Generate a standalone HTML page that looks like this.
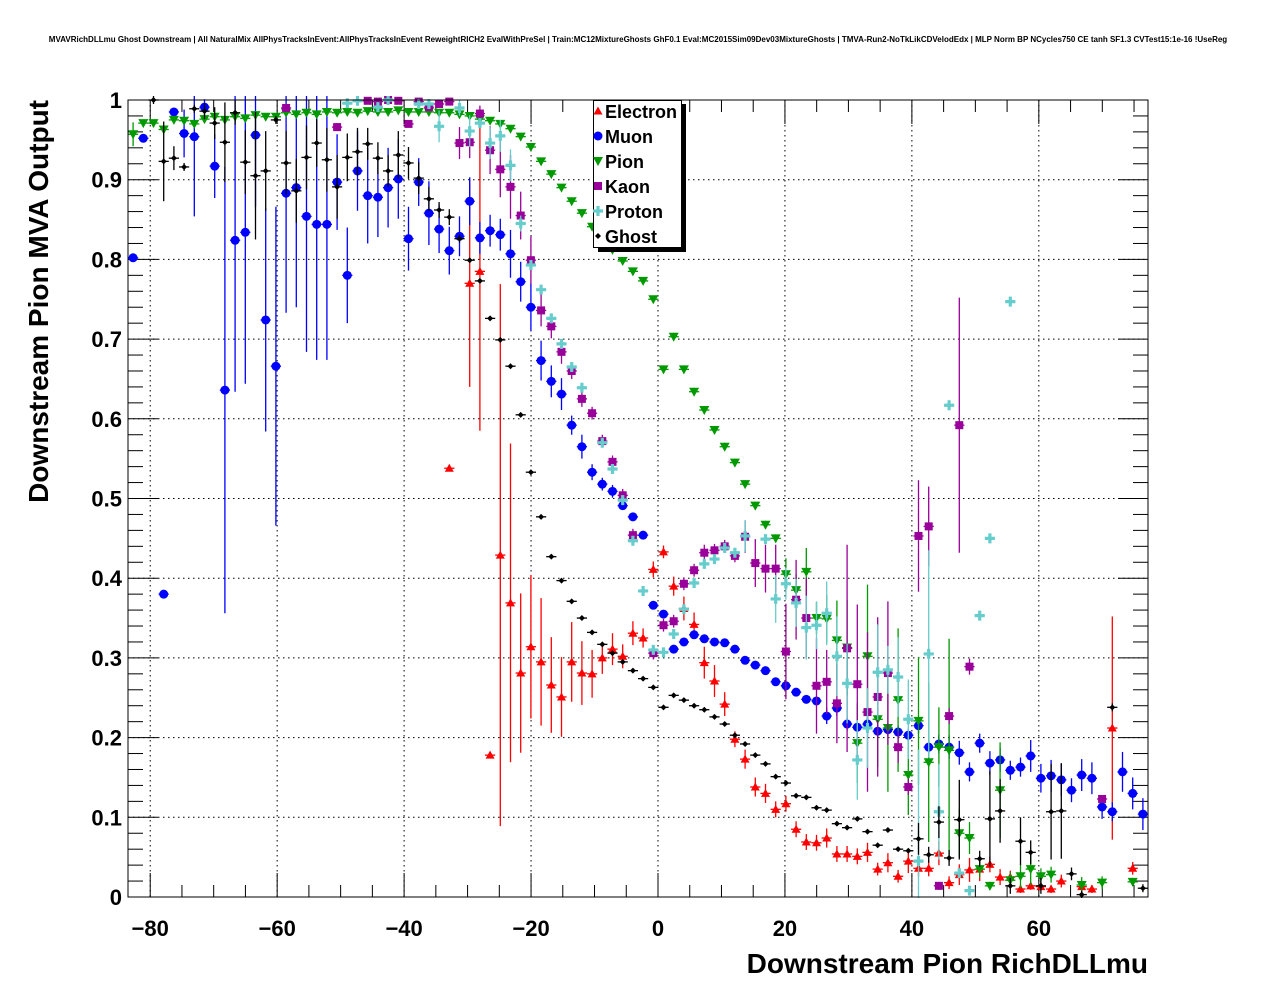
<!DOCTYPE html>
<html><head><meta charset="utf-8"><style>
html,body{margin:0;padding:0;background:#fff;}
svg{display:block;font-family:"Liberation Sans",sans-serif;}
</style></head><body>
<svg id="chart" width="1276" height="996" viewBox="0 0 1276 996">
<text x="638" y="42" font-size="8" font-weight="bold" text-anchor="middle">MVAVRichDLLmu Ghost Downstream | All NaturalMix AllPhysTracksInEvent:AllPhysTracksInEvent ReweightRICH2 EvalWithPreSel | Train:MC12MixtureGhosts GhF0.1 Eval:MC2015Sim09Dev03MixtureGhosts | TMVA-Run2-NoTkLikCDVelodEdx | MLP Norm BP NCycles750 CE tanh SF1.3 CVTest15:1e-16 !UseReg</text>
<g id="grid"></g>
<g id="axes"></g>
<g id="series" clip-path="url(#plotclip)"></g>
<defs><clipPath id="plotclip"><rect x="128" y="96" width="1021" height="802"/></clipPath></defs>
<rect x="128" y="100" width="1020" height="797" fill="none" stroke="#000" stroke-width="1"/>
<text x="1148" y="973" font-size="28" font-weight="bold" text-anchor="end">Downstream Pion RichDLLmu</text>
<text transform="translate(48,100) rotate(-90)" font-size="28" font-weight="bold" text-anchor="end">Downstream Pion MVA Output</text>
<g id="legend">
<rect x="598" y="104" width="88" height="148" fill="#000"/>
<rect x="593.5" y="100.5" width="88" height="147" fill="#fff" stroke="#000" stroke-width="1"/>
</g>
</svg>
<script>
const X0=-83.5, X1=77.2, NB=100;
const xTicks=[-80,-60,-40,-20,0,20,40,60];
const xTickLabels=["\u221280","\u221260","\u221240","\u221220","0","20","40","60"];
const yTicks=[0,0.1,0.2,0.3,0.4,0.5,0.6,0.7,0.8,0.9,1];
const yTickLabels=["0","0.1","0.2","0.3","0.4","0.5","0.6","0.7","0.8","0.9","1"];
const seriesNames=["Electron","Muon","Pion","Kaon","Proton","Ghost"];
const n=null;
const electronVals=[n,n,n,n,n,n,n,n,n,n, n,n,n,n,n,n,n,n,n,n, n,n,n,n,n,n,n,n,n,n, n,.538,n,.770,.785,.178,.429,.369,.281,.314, .295,.266,.251,.295,.281,.280,.300,.311,.302,.331, .325,.411,.433,.390,.362,.342,.294,.271,.242,.198, .173,.138,.130,.110,.117,.085,.069,.068,.074,.054, .054,.051,.056,.035,.043,.026,.045,.036,.036,.055, .018,.028,.034,.035,.041,.025,.025,.010,.014,.013, .010,.020,n,.013,.010,n,.212,n,.036,n];
const electronErr=[0,0,0,0,0,0,0,0,0,0, 0,0,0,0,0,0,0,0,0,0, 0,0,0,0,0,0,0,0,0,0, 0,.003,0,.13,.2,.003,.34,.2,.1,.09, .08,.06,.05,.05,.04,.03,.02,.02,.015,.015, .012,.01,.008,.012,.015,.015,.02,.02,.015,.01, .012,.012,.012,.01,.01,.01,.01,.01,.012,.01, .01,.01,.012,.008,.012,.008,.015,.01,.01,.015, .008,.013,.015,.015,.01,.01,.008,.005,.005,.005, .005,.008,0,.005,.005,0,.14,0,.008,0];
const muonVals=[.802,.952,n,.380,.985,.958,.954,.991,.917,.636, .824,.834,.956,.724,.666,.883,.890,.854,.844,.844, .897,.780,.911,.880,.878,.890,.901,.826,.897,.858, .838,.811,.829,.873,.827,.836,.831,.807,.772,.740, .673,.647,.631,.592,.565,.533,.518,.509,.491,.477, .454,.366,.355,.311,.320,.329,.324,.320,.319,.311, .297,.291,.284,.270,.265,.257,.248,.246,.227,.237, .217,.213,.217,.208,.210,.207,.203,.215,.188,.192, .188,.181,.157,.193,.168,.172,.159,.163,.177,.149, .152,.147,.134,.153,.149,.113,.107,.157,.130,.104];
const muonErr=[.003,.005,0,.005,.005,.03,.1,.01,.04,.28, .19,.19,.09,.14,.2,.15,.15,.17,.17,.17, .06,.06,.05,.06,.05,.05,.05,.04,.03,.04, .03,.03,.025,.03,.02,.02,.02,.03,.025,.03, .025,.02,.02,.012,.015,.01,.008,.008,.005,.005, .005,.005,.005,.005,.005,.005,.005,.005,.005,.005, .005,.005,.005,.005,.005,.005,.005,.005,.01,.01, .008,.008,.008,.008,.008,.008,.008,.01,.01,.012, .015,.015,.012,.012,.015,.015,.012,.012,.02,.018, .02,.02,.015,.02,.02,.015,.012,.025,.02,.02];
const pionVals=[.957,.971,.971,.963,.975,.974,.970,.976,.979,.975, .979,.977,.981,.979,.979,.984,.982,.984,.982,.985, .984,.985,.984,.986,.985,.985,.987,.985,.985,.985, .984,.984,.982,.980,.976,.974,.970,.964,.954,.941, .923,.907,.890,.873,.858,.841,.826,.812,.798,.785, .773,.750,.662,.703,.662,.634,.611,.586,.565,.545, .518,.491,.467,.450,.405,.385,.408,.350,.349,.322, .313,.193,.302,.223,.212,.247,.153,.221,.169,.188, .184,.080,.074,.035,.014,.134,.021,.026,.035,.026, .028,n,n,.015,n,.018,n,n,.019,n];
const pionErr=[.015,.003,.003,.003,.003,.003,.003,.003,.003,.003, .003,.003,.003,.003,.003,.003,.003,.003,.003,.003, .003,.003,.003,.003,.003,.003,.003,.003,.003,.003, .003,.003,.003,.003,.003,.003,.003,.003,.003,.003, .003,.003,.003,.003,.003,.003,.003,.003,.003,.003, .003,.003,.005,.005,.005,.005,.005,.005,.005,.005, .005,.005,.005,.005,.02,.02,.03,.02,.03,.05, .06,.05,.09,.06,.08,.09,.05,.08,.1,.05, .14,.03,.02,.01,.005,.06,.01,.015,.02,.01, .01,0,0,.01,0,.008,0,0,.005,0];
const kaonVals=[n,n,n,n,n,n,n,n,n,n, n,n,n,n,n,.990,n,n,n,n, .966,n,n,.999,.998,1.0,.999,.970,.998,.991, .995,.998,.946,.947,.983,.937,.913,.891,.855,.799, .736,.716,.684,.660,.625,.607,.572,.546,.504,.454, n,.306,.341,.346,.393,.410,.432,.435,.440,.428, .452,.419,.412,.412,.308,.373,.350,.265,.270,.243, .312,.267,.232,.251,.281,.188,.138,.453,.465,.014, .227,.592,.289,n,n,n,n,n,n,n, n,n,n,n,n,.123,n,n,n,n];
const kaonErr=[0,0,0,0,0,0,0,0,0,0, 0,0,0,0,0,.005,0,0,0,0, .005,0,0,.003,.003,.003,.003,.003,.003,.003, .003,.003,.02,.02,.01,.03,.035,.04,.03,.03, .02,.015,.015,.01,.01,.008,.008,.008,.008,.008, 0,.008,.008,.008,.008,.008,.01,.008,.008,.008, .02,.03,.03,.03,.06,.05,.05,.06,.04,.05, .13,.1,.1,.1,.09,.02,.01,.07,.05,.005, .01,.16,.01,0,0,0,0,0,0,0, 0,0,0,0,0,.005,0,0,0,0];
const protonVals=[n,n,n,n,n,n,n,n,n,n, n,n,n,n,n,n,n,n,n,n, n,.996,.999,n,.991,1.0,n,n,.995,.995, .967,n,.990,.961,.971,.946,.955,.918,.845,.793, .762,.726,.694,.665,.639,n,.570,.537,.498,.447, .384,.310,.307,.330,.361,.394,.418,.424,.438,.432, .453,n,.449,.374,.393,.369,.338,.341,.356,.302, .268,.172,.212,.282,.285,.276,.223,.045,.305,.107, .617,.030,.008,.353,.450,n,.747,n,n,n, n,n,n,n,n,n,n,n,n,n];
const protonErr=[0,0,0,0,0,0,0,0,0,0, 0,0,0,0,0,0,0,0,0,0, 0,.005,.005,0,.005,.005,0,0,.005,.005, .02,0,.01,.02,.005,.02,.02,.02,.01,.005, .005,.005,.005,.005,.005,0,.005,.005,.005,.005, .005,.005,.005,.005,.005,.005,.005,.005,.005,.005, .02,0,.005,.03,.02,.03,.04,.03,.04,.05, .05,.05,.05,.06,.03,.05,.05,.14,.13,.06, .005,.005,.005,.005,.005,0,.005,0,0,0, 0,0,0,0,0,0,0,0,0,0];
const ghostVals=[n,n,1.0,.923,.927,.916,.989,.986,.971,.947, .984,.922,.905,.911,.975,.921,.886,.928,.946,.925, .891,.928,.935,.945,.927,.911,.931,.921,.902,.876, .862,.853,.826,.799,.773,.726,.699,.666,.605,.533, .477,.427,.397,.371,.350,.332,.317,.306,.295,.284, .274,.263,.238,.253,.247,.240,.235,.226,.217,.203, .192,.178,.167,.151,.143,.127,.125,.112,.109,.092, .087,.098,.082,.065,.084,.060,.058,.073,.053,.094, .049,.097,n,.048,.098,.108,.014,.070,.056,.014, .107,.108,.029,.003,n,n,.238,n,n,.011];
const ghostErr=[0,0,.005,.05,.015,.005,.005,.01,.02,.05, .015,.04,.08,.05,.005,.04,.04,.04,.03,.04, .04,.03,.03,.02,.02,.02,.03,.02,.02,.015, .01,.01,.005,.003,.003,.003,.003,.003,.003,.003, .003,.003,.003,.003,.003,.003,.003,.003,.003,.003, .003,.003,.003,.003,.003,.003,.003,.003,.003,.003, .003,.004,.004,.004,.004,.004,.004,.004,.004,.004, .004,.004,.004,.004,.004,.004,.004,.02,.01,.02, .01,.05,0,.01,.06,.04,.01,.03,.015,.01, .06,.06,.008,.005,0,0,.005,0,0,.005];

const PL=128, PR=1148, PT=100, PB=897;
const sx=v=>PL+(v-X0)/(X1-X0)*(PR-PL);
const sy=v=>PB-v*(PB-PT);
const binW=(X1-X0)/NB;
const binC=i=>X0+binW*(i+0.5);
const NS="http://www.w3.org/2000/svg";
function mk(tag,attrs,parent){const e=document.createElementNS(NS,tag);for(const k in attrs)e.setAttribute(k,attrs[k]);parent.appendChild(e);return e;}
const grid=document.getElementById('grid'), axes=document.getElementById('axes'), ser=document.getElementById('series'), leg=document.getElementById('legend');

xTicks.forEach((t,k)=>{
  const x=sx(t);
  const gl=mk('line',{x1:x,x2:x,y1:PT,y2:PB,stroke:'#000','stroke-width':1,'stroke-dasharray':'1.5,3.5'},grid);
  
  
  const lb=mk('text',{x:x,y:936,'font-size':22,'font-weight':'bold','text-anchor':'middle'},axes);
  lb.textContent=xTickLabels[k];
  
  
});
for(let v=-80;v<=75;v+=5){
  const x=sx(v); const major=(v%20===0); const L=major?24:12;
  const t1=mk('line',{x1:x,x2:x,y1:PB,y2:PB-L,stroke:'#000','stroke-width':1},axes);
  
  
  const t2=mk('line',{x1:x,x2:x,y1:PT,y2:PT+L,stroke:'#000','stroke-width':1},axes);
  
  
}
yTicks.forEach((t,k)=>{
  const y=sy(t);
  if(t>0&&t<1){
    const gl=mk('line',{x1:PL,x2:PR,y1:y,y2:y,stroke:'#000','stroke-width':1,'stroke-dasharray':'1.5,3.5'},grid);
    
    
  }
  const lb=mk('text',{x:122,y:y+8,'font-size':22,'font-weight':'bold','text-anchor':'end'},axes);
  lb.textContent=yTickLabels[k];
  
  
});
for(let j=0;j<=50;j++){
  const y=sy(j*0.02); const L=(j%5===0)?30:15;
  const t1=mk('line',{x1:PL,x2:PL+L,y1:y,y2:y,stroke:'#000','stroke-width':1},axes);
  
  
  const t2=mk('line',{x1:PR,x2:PR-L,y1:y,y2:y,stroke:'#000','stroke-width':1},axes);
  
  
}

const colors={Electron:'#ff0000',Muon:'#0000ff',Pion:'#009900',Kaon:'#990099',Proton:'#66cccc',Ghost:'#000000'};
function marker(name,x,y,parent){
  const c=colors[name]; let e;
  if(name==='Electron') e=mk('polygon',{points:`${x},${y-4.5} ${x-4.5},${y+3.5} ${x+4.5},${y+3.5}`,fill:c},parent);
  else if(name==='Muon') e=mk('circle',{cx:x,cy:y,r:4.5,fill:c},parent);
  else if(name==='Pion') e=mk('polygon',{points:`${x-5},${y-4} ${x+5},${y-4} ${x},${y+5}`,fill:c},parent);
  else if(name==='Kaon') e=mk('rect',{x:x-4,y:y-4,width:8,height:8,fill:c},parent);
  else if(name==='Proton') e=mk('path',{d:`M${x-5},${y-1.6}h3.4v-3.4h3.2v3.4h3.4v3.2h-3.4v3.4h-3.2v-3.4h-3.4z`,fill:c},parent);
  else e=mk('polygon',{points:`${x},${y-3} ${x+3},${y} ${x},${y+3} ${x-3},${y}`,fill:c},parent);
  return e;
}
const all={Electron:[electronVals,electronErr],Muon:[muonVals,muonErr],Pion:[pionVals,pionErr],Kaon:[kaonVals,kaonErr],Proton:[protonVals,protonErr],Ghost:[ghostVals,ghostErr]};
seriesNames.forEach(name=>{
  const [vals,errs]=all[name]; const c=colors[name];
  const g=mk('g',{},ser);
  
  
  vals.forEach((v,i)=>{
    if(v===null) return;
    const xc=binC(i), x=sx(xc), y=sy(v), e=errs[i]||0;
    const h=mk('line',{x1:sx(xc-binW/2),x2:sx(xc+binW/2),y1:y,y2:y,stroke:c,'stroke-width':1.3},g);
    
    
    if(e>0.004){
      const vb=mk('line',{x1:x,x2:x,y1:sy(v+e),y2:sy(Math.max(v-e,-0.01)),stroke:c,'stroke-width':1.3},g);
      
      
    }
    const m=marker(name,x,y,g);
    
    
  });
});
seriesNames.forEach((name,k)=>{
  const y=111+k*25;
  const m=marker(name,598,y,leg);
  
  
  const t=mk('text',{x:605,y:y+7,'font-size':18,'font-weight':'bold'},leg);
  t.textContent=name;
  
  
});
</script>
</body></html>
